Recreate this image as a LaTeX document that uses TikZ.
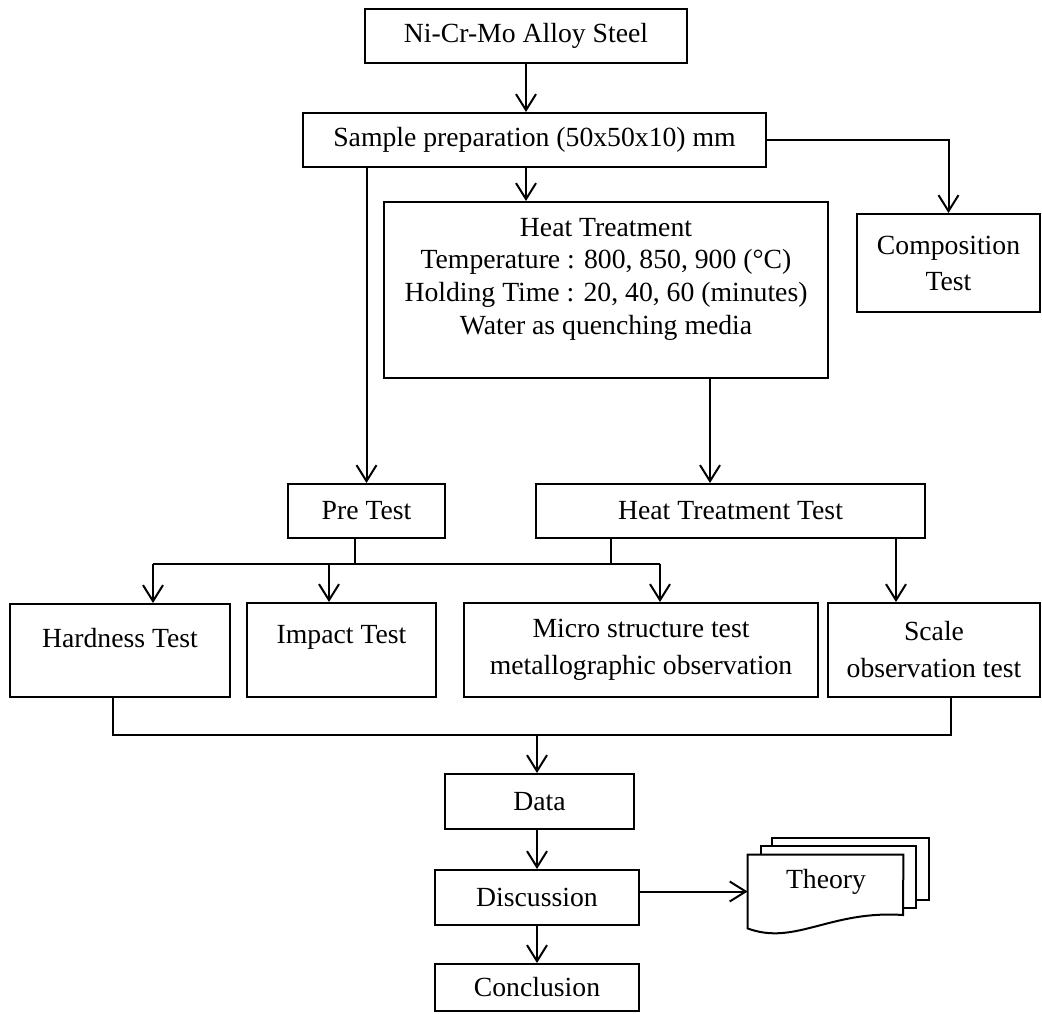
\documentclass[tikz,border=0pt]{standalone}
\usepackage{fontspec}
\setmainfont{Liberation Serif}
\usetikzlibrary{arrows.meta,calc}
\begin{document}
\begin{tikzpicture}[x=0.5pt,y=-0.5pt,
  box/.style={draw,line width=1pt,inner sep=0pt,align=center,font=\fontsize{13.85}{18}\selectfont},
  txt/.style={inner sep=0pt,align=center,font=\fontsize{13.85}{18}\selectfont},
  conn/.style={line width=1pt},
  arr/.style={line width=1pt,-{Straight Barb[length=8pt,width=10pt,line width=1pt]}}]
\useasboundingbox (0,0) rectangle (1042,1013);
% boxes
\node[box,minimum width=161pt,minimum height=27pt] (nicr) at (526,36) {Ni-Cr-Mo Alloy Steel};
\node[box,minimum width=231.5pt,minimum height=27pt] (samp) at (534.5,140) {Sample preparation (50x50x10) mm};
\node[box,minimum width=91.5pt,minimum height=49pt] (comp) at (948.5,263) {Composition\\Test};
\node[box,minimum width=222pt,minimum height=88pt] (ht) at (606,290) {};
\node[txt,font=\fontsize{13.85}{16.35}\selectfont] (httxt) at (606,279) {Heat Treatment\\Temperature : 800, 850, 900 (°C)\\Holding Time : 20, 40, 60 (minutes)\\Water as quenching media};
\node[box,minimum width=78.5pt,minimum height=27pt] (pre) at (366.5,511) {Pre Test};
\node[box,minimum width=194.5pt,minimum height=27pt] (htt) at (730.5,511) {Heat Treatment Test};
\node[box,minimum width=110pt,minimum height=46.5pt] (hard) at (120,650.5) {};
\node[txt] (hardtxt) at (120,638) {Hardness Test};
\node[box,minimum width=94.5pt,minimum height=47pt] (imp) at (341.5,650) {};
\node[txt] (imptxt) at (341.5,637) {Impact Test};
\node[box,minimum width=177pt,minimum height=47pt,font=\fontsize{13.85}{18.5}\selectfont] (micro) at (641,650) {Micro structure test\\metallographic observation};
\node[box,minimum width=106pt,minimum height=47pt,font=\fontsize{13.85}{18.5}\selectfont] (scale) at (934,650) {Scale\\observation test};
\node[box,minimum width=94.5pt,minimum height=27.5pt] (data) at (539.5,801.5) {Data};
\node[box,minimum width=102pt,minimum height=27.5pt] (disc) at (537,897.5) {Discussion};
\node[box,minimum width=102pt,minimum height=23.5pt] (conc) at (537,987.5) {Conclusion};
% multi-document
\draw[line width=1pt,fill=white] (772,838) rectangle (929,900);
\draw[line width=1pt,fill=white] (761,846) rectangle (916,908);
\node[minimum width=77.5pt,minimum height=36.5pt,inner sep=0pt] (theory) at (825.5,891.5) {};
\draw[line width=1pt,fill=white] (theory.south west) -- (theory.north west) -- (theory.north east) -- (903,915) .. controls (830,910) and (795,946) .. (theory.south west) -- cycle;
\node[txt] (thtxt) at (826,882) {Theory};
% connectors
\draw[arr] (nicr.south) -- (nicr.south |- samp.north);
\draw[arr] (samp.east) -| (comp.north);
\draw[arr] (pre.north |- samp.south) -- (pre.north);
\draw[arr] (nicr.south |- samp.south) -- (nicr.south |- ht.north);
\draw[arr] ([xshift=52pt]ht.south) -- ([xshift=52pt]ht.south |- htt.north);
\coordinate (b1L) at (153,564);
\coordinate (b1I) at (329,564);
\coordinate (b1R) at (660,564);
\draw[conn] (b1L) -- (b1R);
\draw[conn] ([xshift=-5.75pt]pre.south) -- ([xshift=-5.75pt]pre.south |- b1L);
\draw[conn] ([xshift=-59.75pt]htt.south) -- ([xshift=-59.75pt]htt.south |- b1L);
\draw[arr] (b1L) -- (b1L |- hard.north);
\draw[arr] (b1I) -- (b1I |- imp.north);
\draw[arr] (b1R) -- (b1R |- micro.north);
\draw[arr] ([xshift=82.75pt]htt.south) -- ([xshift=82.75pt]htt.south |- scale.north);
\coordinate (b2L) at (113,735);
\coordinate (b2R) at (951,735);
\coordinate (b2D) at (537,735);
\draw[conn] (b2L |- hard.south) -- (b2L) -- (b2R) -- (b2R |- scale.south);
\draw[arr] (b2D) -- (b2D |- data.north);
\draw[arr] (disc.north |- data.south) -- (disc.north);
\draw[arr] (disc.south) -- (conc.north);
\draw[arr] (disc.east |- theory.west) -- (theory.west);
\end{tikzpicture}
\end{document}
